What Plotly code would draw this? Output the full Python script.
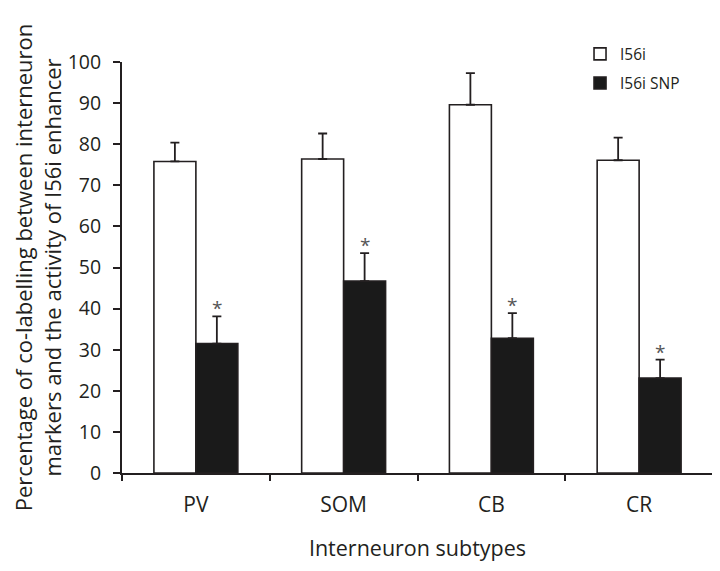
import plotly.graph_objects as go

categories = ["PV", "SOM", "CB", "CR"]
i56i = [75.8, 76.4, 89.6, 76.1]
i56i_err = [4.6, 6.2, 7.7, 5.5]
snp = [31.5, 46.7, 32.8, 23.1]
snp_err = [6.6, 6.8, 6.1, 4.5]
y_ticks = [0, 10, 20, 30, 40, 50, 60, 70, 80, 90, 100]

FONT = "Open Sans"
INK = "#231f20"

fig = go.Figure()
fig.add_trace(go.Bar(
    name="I56i", x=categories, y=i56i, legendgroup="a",
    marker=dict(color="white", line=dict(color=INK, width=1.6)),
    error_y=dict(type="data", symmetric=False, array=i56i_err,
                 arrayminus=[0] * len(i56i_err), color=INK, thickness=1.8, width=4.5),
))
fig.add_trace(go.Bar(
    name="I56i SNP", x=categories, y=snp, legendgroup="b",
    marker=dict(color="#1a1a1a", line=dict(color=INK, width=1.6)),
    error_y=dict(type="data", symmetric=False, array=snp_err,
                 arrayminus=[0] * len(snp_err), color=INK, thickness=1.8, width=4.5),
))

for c, v, e in zip(categories, snp, snp_err):
    fig.add_annotation(x=c, y=v + e, text="*", showarrow=False, xshift=21,
                       yanchor="bottom", yshift=-7,
                       font=dict(family=FONT, size=19, color="#555555"))

# page body has an 8px margin, so the figure is drawn 8px smaller and offset
fig.update_layout(
    width=712, height=563,
    margin=dict(l=114, r=7, t=54, b=98),
    paper_bgcolor="white", plot_bgcolor="white",
    barmode="group", bargap=0.432, bargroupgap=0,
    font=dict(family=FONT, size=19, color=INK),
    showlegend=True,
    legend=dict(x=0.775, y=1.06, xanchor="left", yanchor="top",
                traceorder="grouped", tracegroupgap=6,
                font=dict(family=FONT, size=15.5, color=INK),
                bgcolor="rgba(0,0,0,0)"),
    xaxis=dict(
        type="category", showline=True, linecolor=INK, linewidth=2,
        ticks="outside", tickson="boundaries", ticklen=6, tickwidth=2, tickcolor=INK,
        tickfont=dict(family=FONT, size=21, color=INK), ticklabelstandoff=12,
        title=dict(text="Interneuron subtypes", font=dict(family=FONT, size=21.5, color=INK), standoff=24),
        showgrid=False, zeroline=False, automargin=False,
    ),
    yaxis=dict(
        range=[0, 100], tickvals=y_ticks, showline=True, linecolor=INK, linewidth=2,
        ticks="outside", ticklen=7, tickwidth=2, tickcolor=INK,
        tickfont=dict(family=FONT, size=19.5, color=INK), ticklabelstandoff=8,
        title=dict(text="Percentage of co-labelling between interneuron<br>markers and the activity of I56i enhancer",
                   font=dict(family=FONT, size=22, color=INK), standoff=5),
        showgrid=False, zeroline=False, automargin=False,
    ),
)

fig.write_html("out.html")
